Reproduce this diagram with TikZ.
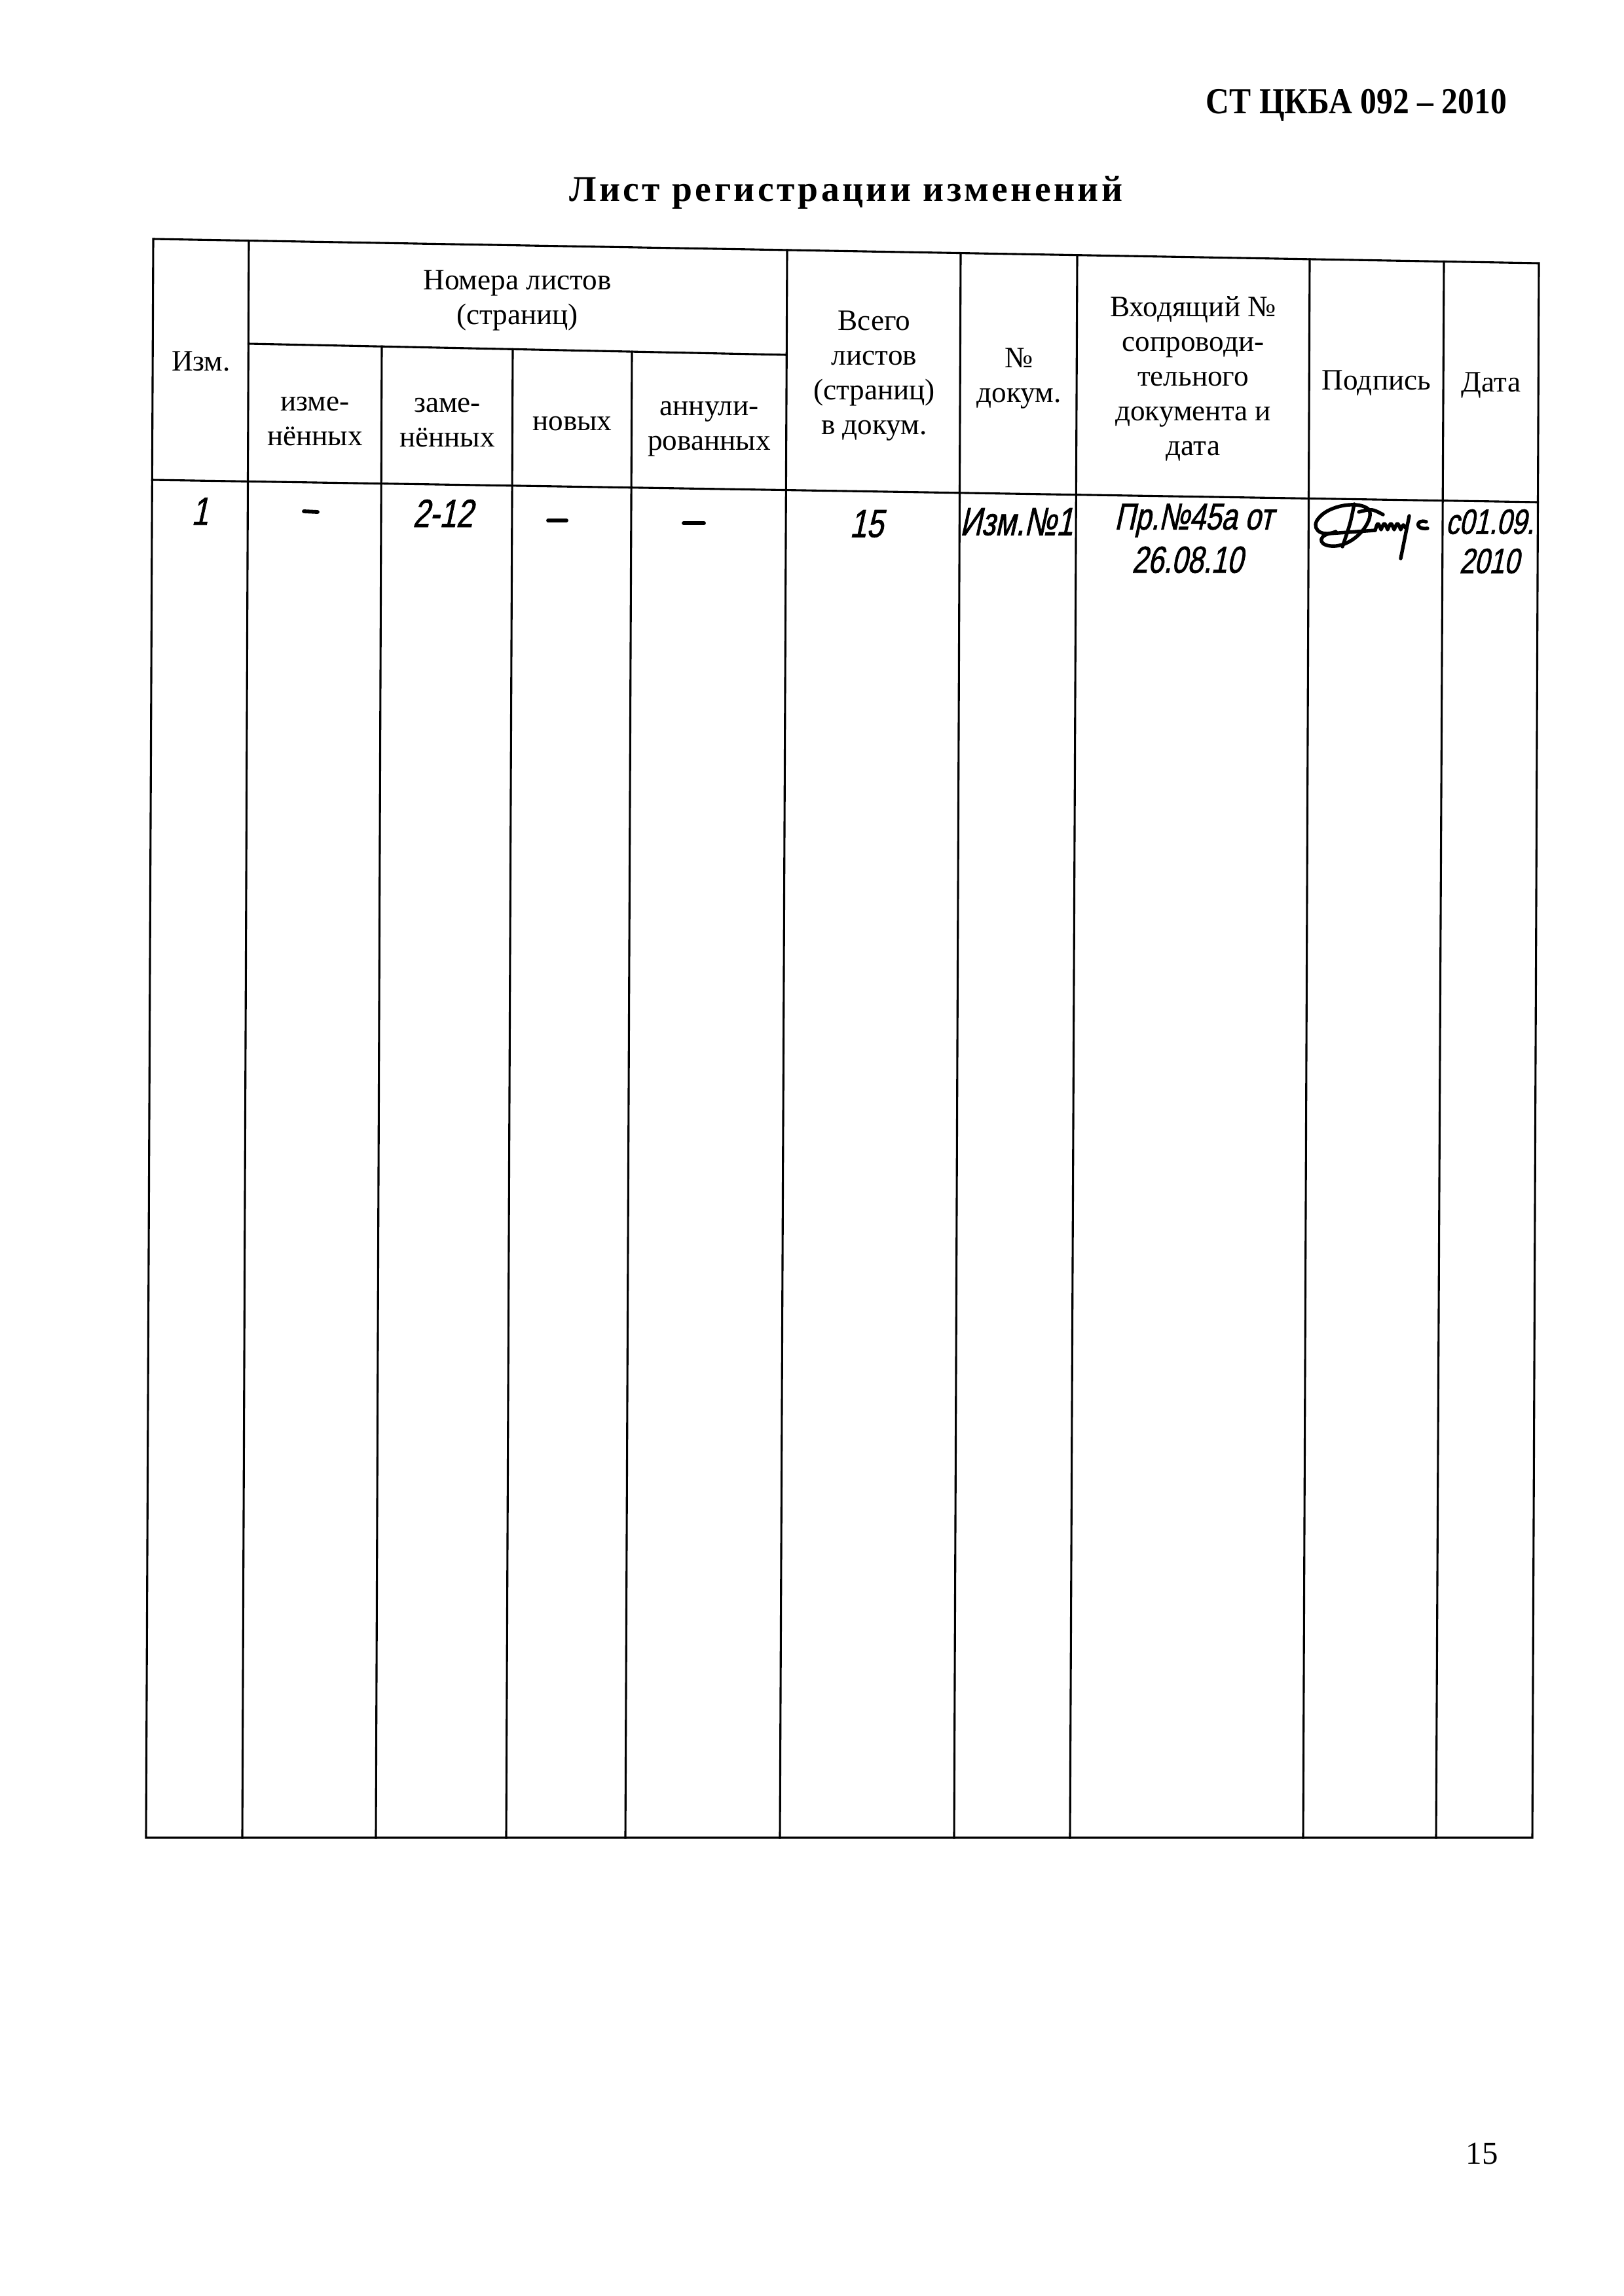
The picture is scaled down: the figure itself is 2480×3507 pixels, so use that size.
\documentclass[tikz,border=0pt]{standalone}
\usepackage{fontspec}
\setmainfont{Liberation Serif}
\newfontfamily\titlefont{Liberation Serif}[LetterSpace=8]
\newfontfamily\hdrfont{Liberation Serif}[FakeStretch=0.885]
\newfontfamily\hand{Liberation Sans}[FakeSlant=0.22,FakeStretch=0.76,FakeBold=1.2]
\tikzset{
  gridline/.style={line width=0.75pt, line cap=rect, line join=miter},
  tab/.style={font=\fontsize{10.9}{12.8}\selectfont, inner sep=0pt, anchor=base},
  hw/.style={font=\hand\fontsize{14.5}{16}\selectfont, inner sep=0pt, anchor=center},
  hwsmall/.style={hw, font=\hand\fontsize{13}{14}\selectfont},
  hwline/.style={line width=1.4pt, line cap=round},
  sig/.style={line width=1.3pt, line cap=round, line join=round}
}
\begin{document}
\begin{tikzpicture}[x=0.084677mm, y=-0.084677mm]
\useasboundingbox (0,0) rectangle (2480,3507);
\fill[white] (0,0) rectangle (2480,3507);

% page header, title, page number
\node[font=\hdrfont\bfseries\fontsize{13.5}{15}\selectfont, inner sep=0pt, anchor=base east] (std) at (2302,173) {СТ ЦКБА 092 – 2010};
\node[font=\titlefont\bfseries\fontsize{13.4}{15}\selectfont, inner sep=0pt, anchor=base] (title) at (1292,307) {Лист регистрации изменений};
\node[font=\fontsize{11.8}{13}\selectfont, inner sep=0pt, anchor=base] (pageno) at (2263,3305) {15};

% table corners and grid points
\coordinate (TL) at (234,365);
\coordinate (TR) at (2350,402);
\coordinate (BR) at (2340,2807);
\coordinate (BL) at (223,2807);
\coordinate (hL) at (232.3,733);
\coordinate (hR) at (2348.5,767);
\coordinate (sL) at (379.4,525);
\coordinate (sR) at (1201.3,542);

% outer frame and horizontal rules
\draw[gridline] (TL) -- (TR) -- (BR) -- (BL) -- cycle;
\draw[gridline] (hL) -- (hR);
\draw[gridline] (sL) -- (sR);

% vertical rules
\coordinate (c1t) at (380,367.6);   \coordinate (c1b) at (370,2807);
\coordinate (c2t) at (583,529.2);   \coordinate (c2b) at (574,2807);
\coordinate (c3t) at (783,533.3);   \coordinate (c3b) at (773,2807);
\coordinate (c4t) at (965,537.1);   \coordinate (c4b) at (955,2807);
\coordinate (c5t) at (1202,381.9);  \coordinate (c5b) at (1191,2807);
\coordinate (c6t) at (1467,386.6);  \coordinate (c6b) at (1457,2807);
\coordinate (c7t) at (1645,389.7);  \coordinate (c7b) at (1634,2807);
\coordinate (c8t) at (2000,395.9);  \coordinate (c8b) at (1990,2807);
\coordinate (c9t) at (2205,399.5);  \coordinate (c9b) at (2193,2807);
\foreach \i in {1,...,9} { \draw[gridline] (c\i t) -- (c\i b); }

% header texts
\node[tab] (h1) at (307,566) {Изм.};
\node[tab] (h2a) at (790,442) {Номера листов};
\node[tab] (h2b) at (790,495) {(страниц)};
\node[tab] (h3a) at (481,627) {изме-};
\node[tab] (h3b) at (481,680) {нённых};
\node[tab] (h4a) at (683,629) {заме-};
\node[tab] (h4b) at (683,682) {нённых};
\node[tab] (h5) at (874,657) {новых};
\node[tab] (h6a) at (1083,634) {аннули-};
\node[tab] (h6b) at (1083,687) {рованных};
\node[tab] (h7a) at (1335,504) {Всего};
\node[tab] (h7b) at (1335,557) {листов};
\node[tab] (h7c) at (1335,610) {(страниц)};
\node[tab] (h7d) at (1335,663) {в докум.};
\node[tab] (h8a) at (1556,561) {№};
\node[tab] (h8b) at (1556,614) {докум.};
\node[tab] (h9a) at (1822,483) {Входящий №};
\node[tab] (h9b) at (1822,536) {сопроводи-};
\node[tab] (h9c) at (1822,589) {тельного};
\node[tab] (h9d) at (1822,642) {документа и};
\node[tab] (h9e) at (1822,695) {дата};
\node[tab] (h10) at (2102,595) {Подпись};
\node[tab] (h11) at (2277,598) {Дата};

% handwritten first row
\node[hw] (r1) at (305,781) {1};
\coordinate (d1a) at (464,781); \coordinate (d1b) at (485,782);
\draw[hwline] (d1a) -- (d1b);
\node[hw] (r3) at (676,784) {2-12};
\coordinate (d2a) at (837,795); \coordinate (d2b) at (865,795);
\draw[hwline] (d2a) -- (d2b);
\coordinate (d3a) at (1044,799); \coordinate (d3b) at (1075,799);
\draw[hwline] (d3a) -- (d3b);
\node[hw] (r6) at (1323,800) {15};
\node[hw] (r7) at (1552,797) {Изм.№1};
\node[hwsmall, font=\hand\fontsize{13.8}{15}\selectfont] (r8a) at (1823,795) {Пр.№45а от};
\node[hwsmall, font=\hand\fontsize{13.8}{15}\selectfont] (r8b) at (1813,855) {26.08.10};
\node[hwsmall] (r10a) at (2275,797) {с01.09.};
\node[hwsmall] (r10b) at (2274,857) {2010};

% signature
\draw[sig] (2040,812) .. controls (2015,822) and (2000,805) .. (2015,790)
  .. controls (2030,772) and (2075,764) .. (2090,778)
  .. controls (2100,790) and (2075,830) .. (2040,834)
  .. controls (2015,836) and (2010,820) .. (2030,815) -- (2100,810);
\draw[sig] (2068,770) .. controls (2062,800) .. (2050,835);
\draw[sig] (2075,782) .. controls (2095,777) .. (2112,786);
\draw[sig] (2100,810) .. controls (2104,797) .. (2109,809)
  .. controls (2114,797) .. (2119,809) .. controls (2124,797) .. (2129,809)
  .. controls (2134,797) .. (2139,809) .. controls (2143,800) .. (2146,806);
\draw[sig] (2152,788) -- (2139,853);
\draw[sig] (2178,797) .. controls (2162,792) and (2160,810) .. (2180,807);
\end{tikzpicture}
\end{document}
